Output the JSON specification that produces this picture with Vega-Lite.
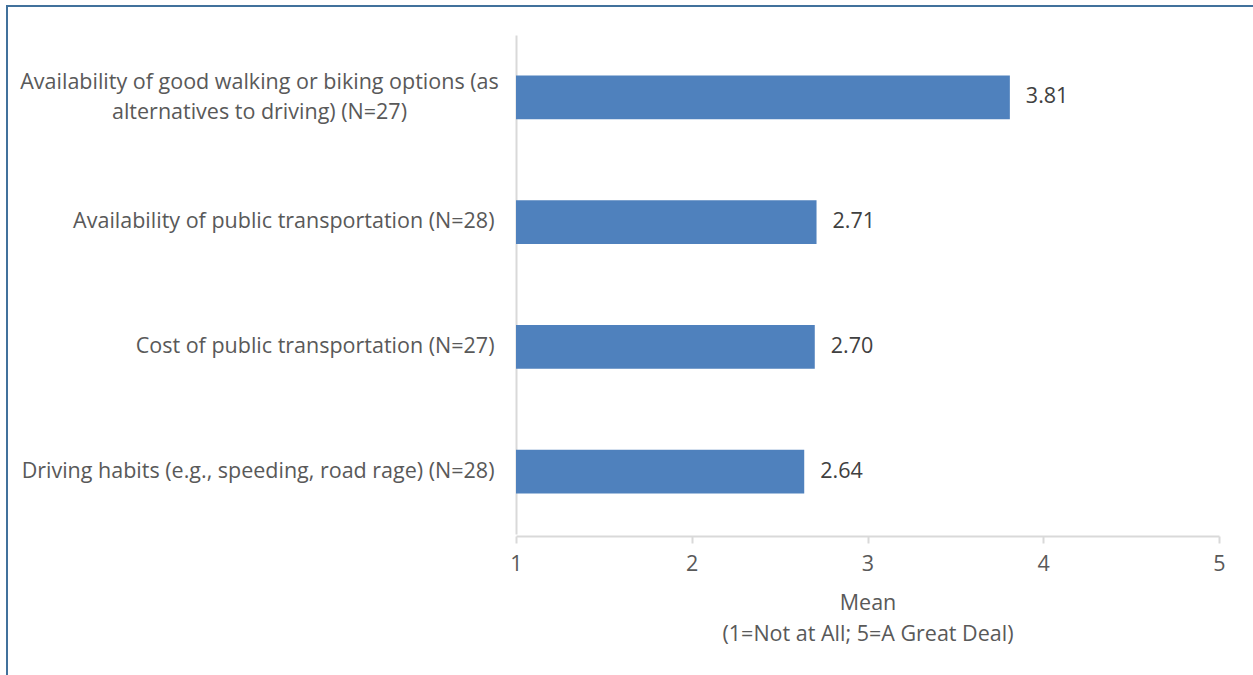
{
  "$schema": "https://vega.github.io/schema/vega-lite/v6.json",
  "autosize": "none",
  "padding": {"left": 7, "top": 6, "right": 0, "bottom": 0},
  "width": 1248,
  "height": 671,
  "background": "white",
  "config": {
    "view": {"stroke": "#41719C", "strokeWidth": 2},
    "font": "Open Sans",
    "axis": {"labelFont": "Open Sans", "titleFont": "Open Sans", "labelColor": "#595959", "titleColor": "#595959", "labelFontSize": 21.5, "titleFontSize": 21.5, "titleFontWeight": "normal", "domainColor": "#D9D9D9", "domainWidth": 2, "tickColor": "#D9D9D9", "tickWidth": 2, "grid": false}
  },
  "data": {
    "values": [
      {"item": "Availability of good walking or biking options (as alternatives to driving) (N=27)", "mean": 3.81},
      {"item": "Availability of public transportation (N=28)", "mean": 2.71},
      {"item": "Cost of public transportation (N=27)", "mean": 2.70},
      {"item": "Driving habits (e.g., speeding, road rage) (N=28)", "mean": 2.64}
    ]
  },
  "encoding": {
    "y": {
      "field": "item", "type": "nominal", "sort": null,
      "scale": {"range": [29, 528], "paddingInner": 0.65, "paddingOuter": 0.325},
      "axis": {
        "title": null, "ticks": false, "offset": -509,
        "labelLimit": 0, "labelLineHeight": 30,
        "labelPadding": {"condition": {"test": "indexof(datum.value, 'walking') >= 0", "value": 257}, "value": 22},
        "labelAlign": {"condition": {"test": "indexof(datum.value, 'walking') >= 0", "value": "center"}, "value": "right"},
        "labelOffset": {"condition": {"test": "indexof(datum.value, 'walking') >= 0", "value": -14}, "value": 0},
        "labelExpr": "indexof(datum.value, 'walking') >= 0 ? ['Availability of good walking or biking options (as', 'alternatives to driving) (N=27)'] : datum.value"
      }
    }
  },
  "layer": [
    {
      "mark": {"type": "bar", "color": "#4F81BD"},
      "encoding": {
        "x": {
          "field": "mean", "type": "quantitative",
          "scale": {"domain": [1, 5], "range": [509, 1212], "nice": false, "zero": false},
          "axis": {
            "title": ["Mean", "(1=Not at All; 5=A Great Deal)"],
            "titleLineHeight": 31, "titlePadding": 18,
            "values": [1, 2, 3, 4, 5], "format": "d", "labelFlush": false,
            "offset": -141, "tickSize": 7, "labelPadding": 10
          }
        },
        "x2": {"datum": 1}
      }
    },
    {
      "mark": {"type": "text", "align": "left", "baseline": "middle", "dx": 16, "fontSize": 21.5, "color": "#404040", "font": "Open Sans"},
      "encoding": {
        "x": {"field": "mean", "type": "quantitative"},
        "text": {"field": "mean", "type": "quantitative", "format": ".2f"}
      }
    }
  ]
}
